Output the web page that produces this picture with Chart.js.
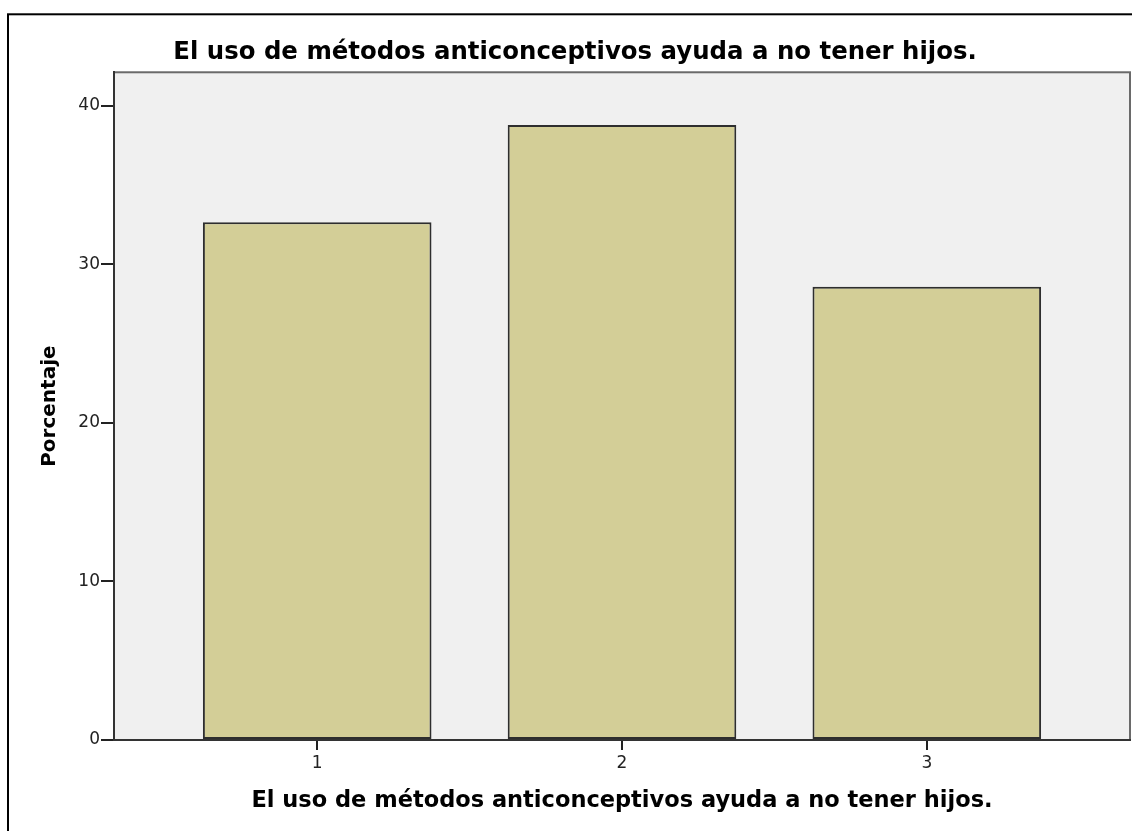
<!DOCTYPE html>
<html lang="es">
<head>
<meta charset="UTF-8">
<title>El uso de métodos anticonceptivos ayuda a no tener hijos.</title>
<script src="https://cdn.jsdelivr.net/npm/chart.js"></script>
<style>
  html, body { margin: 0; padding: 0; background: #fff; }
  #wrap { width: 1132px; height: 831px; position: relative; }
</style>
</head>
<body>
<div id="wrap"><canvas id="chart"></canvas></div>
<script>
const chartTitle = 'El uso de métodos anticonceptivos ayuda a no tener hijos.';
const axisTitleX = 'El uso de métodos anticonceptivos ayuda a no tener hijos.';
const axisTitleY = 'Porcentaje';
const categories = [1, 2, 3];
const percentages = [32.65, 38.78, 28.57];
const yTicks = [0, 10, 20, 30, 40];

const FONT = "'DejaVu Sans', sans-serif";

// white page, outer black frame, grey plot background + frame
const framePlugin = {
  id: 'frame',
  beforeDraw(chart) {
    const { ctx, chartArea: a } = chart;
    ctx.save();
    ctx.fillStyle = '#fff';
    ctx.fillRect(0, 0, chart.width, chart.height);
    ctx.strokeStyle = '#000';
    ctx.lineWidth = 2;
    ctx.strokeRect(8, 14.3, chart.width + 40, chart.height + 40);
    ctx.fillStyle = '#f0f0f0';
    ctx.fillRect(a.left, a.top, a.right - a.left, a.bottom - a.top);
    ctx.strokeStyle = '#6a6a6a';
    ctx.lineWidth = 2;
    ctx.strokeRect(a.left, a.top, a.right - a.left, a.bottom - a.top);
    ctx.restore();
  }
};

new Chart(document.getElementById('chart'), {
  type: 'bar',
  data: {
    datasets: [{
      data: categories.map((c, i) => ({ x: c, y: percentages[i] })),
      backgroundColor: '#d3ce97',
      borderColor: '#2e2e2e',
      borderWidth: 2,
      borderSkipped: false,
      barPercentage: 0.75,
      categoryPercentage: 1
    }]
  },
  options: {
    responsive: true,
    maintainAspectRatio: false,
    animation: false,
    layout: { padding: { left: 20, right: 2, top: 0, bottom: 0 } },
    plugins: {
      legend: { display: false },
      tooltip: { enabled: false },
      title: {
        display: true,
        text: chartTitle,
        color: '#000',
        font: { family: FONT, size: 24.4, weight: 'bold' },
        padding: { top: 38, bottom: 5 }
      }
    },
    scales: {
      x: {
        type: 'linear',
        min: 1 / 3,
        max: 11 / 3,
        offset: false,
        afterBuildTicks: s => { s.ticks = categories.map(v => ({ value: v })); },
        afterFit: s => { s.height = 91; },
        ticks: { color: '#222', padding: 3, font: { family: FONT, size: 17 } },
        grid: { offset: false, drawOnChartArea: false, tickLength: 10, color: '#222', lineWidth: 2 },
        border: { display: true, color: '#333', width: 2 },
        title: {
          display: true,
          text: axisTitleX,
          color: '#000',
          font: { family: FONT, size: 22.5, weight: 'bold' },
          padding: { top: 0, bottom: 16 }
        }
      },
      y: {
        min: 0,
        max: 42.1,
        afterBuildTicks: s => { s.ticks = yTicks.map(v => ({ value: v })); },
        afterFit: s => { s.width = 94; },
        ticks: { color: '#222', padding: 1, font: { family: FONT, size: 17 } },
        grid: { drawOnChartArea: false, tickLength: 13, color: '#222', lineWidth: 2 },
        border: { display: true, color: '#333', width: 2 },
        title: {
          display: true,
          text: axisTitleY,
          color: '#000',
          font: { family: FONT, size: 20, weight: 'bold' },
          padding: { top: 18, bottom: 0 }
        }
      }
    }
  },
  plugins: [framePlugin]
});
</script>
</body>
</html>
